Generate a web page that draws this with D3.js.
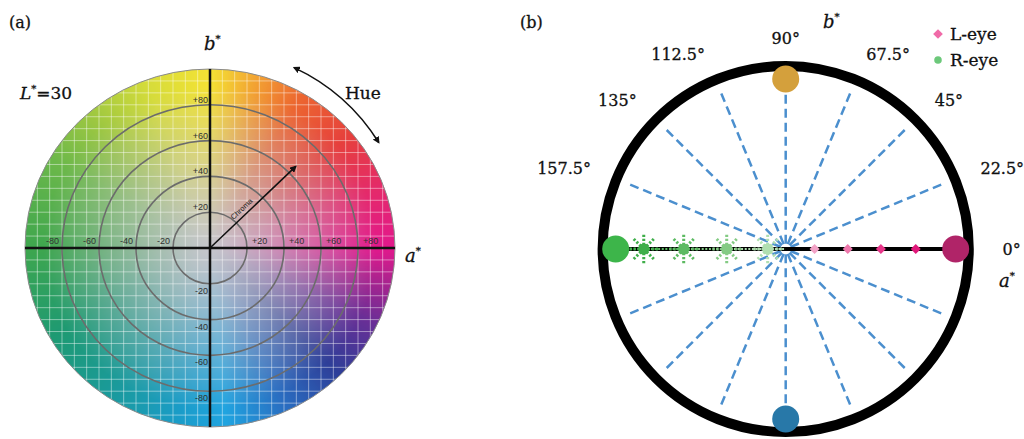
<!DOCTYPE html>
<html>
<head>
<meta charset="utf-8">
<script src="https://cdn.jsdelivr.net/npm/d3@7"></script>
<style>
  body { margin: 0; background: #fff; }
  svg { display: block; }
  .serif { font-family: "DejaVu Serif", serif; fill: #111; stroke: #111; stroke-width: 0.3; }
</style>
</head>
<body>
<svg id="chart" width="1024" height="439"></svg>
<script>
// ---- panel (a): CIELAB a*b* plane at L*=30 ----
const hueAngles = [0, 20, 40, 60, 75, 90, 110, 130, 150, 180, 210, 235, 260, 275, 295, 315, 335, 350, 360];
const hueColors = ['#e2188c', '#e42a6a', '#e6403c', '#ec6630', '#f2a232', '#f4e234', '#d6dc3a', '#a0c840',
  '#6cb84a', '#3ea64e', '#1e9a72', '#1a9a98', '#1a9cc8', '#20a4e0', '#2a6cc0', '#2e3e98', '#6a2e96', '#b0228e', '#e2188c'];
const abTicks = [-80, -60, -40, -20, 20, 40, 60, 80];
const chromaRings = [20, 40, 60, 80];
const chromaArrow = [{ hue: 44.5, chroma: 65 }];
const hueArrow = [{ from: 65, to: 32 }];

// ---- panel (b): hue angle diagram ----
const spokeAngles = [22.5, 45, 67.5, 90, 112.5, 135, 157.5, 202.5, 225, 247.5, 270, 292.5, 315, 337.5];
const angleLabels = [0, 22.5, 45, 67.5, 90, 112.5, 135, 157.5];
const anchorHues = [0, 90, 180, 270];
const anchorColors = ['#b02468', '#d4a03c', '#3db54a', '#2878a8'];
const rEyeA = [-0.835, -0.6, -0.347, -0.106];
const rEyeColors = ['#3fae4a', '#5cba62', '#84cb84', '#b0dfb0'];
const lEyeA = [0.17, 0.365, 0.56, 0.765];
const lEyeColors = ['#f2a2c6', '#ee78ac', '#e8368a', '#e0187a'];
const legendItems = ['L-eye', 'R-eye'];
const legendColors = ['#f06aa8', '#6cc87a'];

const svg = d3.select('#chart');
const rad = (d) => (d * Math.PI) / 180;

const defs = svg.append('defs');
defs.append('marker')
  .attr('id', 'arrowHead')
  .attr('viewBox', '0 0 10 10')
  .attr('refX', 8).attr('refY', 5)
  .attr('markerWidth', 7).attr('markerHeight', 7)
  .attr('markerUnits', 'userSpaceOnUse')
  .attr('orient', 'auto-start-reverse')
  .append('path')
  .attr('d', 'M0,0 L10,5 L0,10 Z')
  .attr('fill', '#111');

// ================= panel (a) =================
const ax = d3.scaleLinear().domain([-100, 100]).range([25, 395]);
const ay = d3.scaleLinear().domain([-100, 100]).range([427, 69]);
const hueScale = d3.scaleLinear().domain(hueAngles).range(hueColors).interpolate(d3.interpolateRgb);
const chromaScale = d3.scalePow().exponent(1.2).domain([0, 90]).range([0, 1]).clamp(true);
const gray = d3.rgb('#c6c6cc');

// hue lookup table, half-degree steps
const lut = d3.range(0, 720).map((i) => d3.rgb(hueScale(i / 2)));

const x0 = Math.floor(ax(-100)), y0 = Math.floor(ay(100));
const cw = Math.ceil(ax(100)) - x0 + 1, ch = Math.ceil(ay(-100)) - y0 + 1;
const canvas = document.createElement('canvas');
canvas.width = cw; canvas.height = ch;
const ctx = canvas.getContext('2d');
const img = ctx.createImageData(cw, ch);
for (let py = 0; py < ch; py++) {
  for (let px = 0; px < cw; px++) {
    const a = ax.invert(x0 + px + 0.5), b = ay.invert(y0 + py + 0.5);
    const r = Math.hypot(a, b);
    const th = ((Math.atan2(b, a) * 180) / Math.PI + 360) % 360;
    const c = lut[Math.round(th * 2) % 720];
    const t = chromaScale(r);
    const k = (py * cw + px) * 4;
    img.data[k] = gray.r + (c.r - gray.r) * t;
    img.data[k + 1] = gray.g + (c.g - gray.g) * t;
    img.data[k + 2] = gray.b + (c.b - gray.b) * t;
    img.data[k + 3] = 255;
  }
}
ctx.putImageData(img, 0, 0);

defs.append('clipPath').attr('id', 'diskClip')
  .append('ellipse')
  .attr('cx', ax(0)).attr('cy', ay(0))
  .attr('rx', ax(100) - ax(0)).attr('ry', ay(0) - ay(100));

const gA = svg.append('g').attr('id', 'panelA');
const disk = gA.append('g').attr('clip-path', 'url(#diskClip)');
disk.append('image')
  .attr('x', x0).attr('y', y0)
  .attr('width', cw).attr('height', ch)
  .attr('href', canvas.toDataURL());

// fine white grid
const gridStep = 20 / 3;
const gridVals = d3.range(-15, 16).map((i) => i * gridStep);
disk.append('g')
  .selectAll('line')
  .data(gridVals)
  .join('line')
  .attr('x1', (d) => ax(d)).attr('x2', (d) => ax(d))
  .attr('y1', ay(100)).attr('y2', ay(-100))
  .attr('stroke', '#fff').attr('stroke-opacity', 0.45).attr('stroke-width', 1);
disk.append('g')
  .selectAll('line')
  .data(gridVals)
  .join('line')
  .attr('y1', (d) => ay(d)).attr('y2', (d) => ay(d))
  .attr('x1', ax(-100)).attr('x2', ax(100))
  .attr('stroke', '#fff').attr('stroke-opacity', 0.45).attr('stroke-width', 1);

gA.append('ellipse')
  .attr('cx', ax(0)).attr('cy', ay(0))
  .attr('rx', ax(100) - ax(0)).attr('ry', ay(0) - ay(100))
  .attr('fill', 'none').attr('stroke', '#8a8a8a').attr('stroke-width', 1);

gA.append('g')
  .selectAll('ellipse')
  .data(chromaRings)
  .join('ellipse')
  .attr('cx', ax(0)).attr('cy', ay(0))
  .attr('rx', (d) => ax(d) - ax(0)).attr('ry', (d) => ay(0) - ay(d))
  .attr('fill', 'none').attr('stroke', '#6c6c6c').attr('stroke-width', 1.6);

// axes
gA.append('line')
  .attr('x1', ax(-100)).attr('x2', ax(100)).attr('y1', ay(0)).attr('y2', ay(0))
  .attr('stroke', '#111').attr('stroke-width', 2.5);
gA.append('line')
  .attr('x1', ax(0)).attr('x2', ax(0)).attr('y1', ay(100)).attr('y2', ay(-100))
  .attr('stroke', '#111').attr('stroke-width', 2.5);

// tick labels
const tickFont = '"Liberation Sans", Arial, sans-serif';
const fmt = (d) => (d > 0 ? '+' + d : '-' + Math.abs(d));
gA.append('g')
  .selectAll('text')
  .data(abTicks)
  .join('text')
  .attr('x', (d) => (d < 0 ? ax(d) - 3 : ax(d) + 5))
  .attr('y', ay(0) - 4)
  .attr('text-anchor', (d) => (d < 0 ? 'end' : 'start'))
  .attr('font-family', tickFont).attr('font-size', 9).attr('fill', '#333')
  .text(fmt);
gA.append('g')
  .selectAll('text')
  .data(abTicks)
  .join('text')
  .attr('x', ax(0) - 2)
  .attr('y', (d) => (d > 0 ? ay(d) - 2 : ay(d) + 10))
  .attr('text-anchor', 'end')
  .attr('font-family', tickFont).attr('font-size', 9).attr('fill', '#333')
  .text(fmt);

// chroma arrow
gA.selectAll('g.chroma')
  .data(chromaArrow)
  .join('g')
  .attr('class', 'chroma')
  .each(function (d) {
    const g = d3.select(this);
    const ex = ax(d.chroma * Math.cos(rad(d.hue))), ey = ay(d.chroma * Math.sin(rad(d.hue)));
    g.append('line')
      .attr('x1', ax(0)).attr('y1', ay(0)).attr('x2', ex).attr('y2', ey)
      .attr('stroke', '#111').attr('stroke-width', 1.6)
      .attr('marker-end', 'url(#arrowHead)');
    const mx = ax(0) + (ex - ax(0)) * 0.42, my = ay(0) + (ey - ay(0)) * 0.42;
    const ang = (Math.atan2(ey - ay(0), ex - ax(0)) * 180) / Math.PI;
    g.append('text')
      .attr('transform', `translate(${mx},${my}) rotate(${ang}) translate(0,-4)`)
      .attr('text-anchor', 'middle')
      .attr('font-family', tickFont).attr('font-size', 7.5).attr('fill', '#222')
      .text('Chroma');
  });

// hue arrow
const hueR = 199;
gA.selectAll('path.hue')
  .data(hueArrow)
  .join('path')
  .attr('class', 'hue')
  .attr('d', (d) => {
    const p = d3.path();
    p.arc(ax(0), ay(0), hueR, -rad(d.from), -rad(d.to), false);
    return p.toString();
  })
  .attr('fill', 'none').attr('stroke', '#111').attr('stroke-width', 1.6)
  .attr('marker-start', 'url(#arrowHead)').attr('marker-end', 'url(#arrowHead)');

gA.append('text').attr('class', 'serif').attr('x', 345).attr('y', 99)
  .attr('font-size', 17).text('Hue');
gA.append('text').attr('class', 'serif').attr('x', 9).attr('y', 28)
  .attr('font-size', 16).text('(a)');

const lab = gA.append('text').attr('class', 'serif').attr('x', 20).attr('y', 99)
  .attr('font-size', 17);
lab.append('tspan').attr('font-style', 'italic').text('L');
lab.append('tspan').attr('font-size', 10).attr('dy', -7).text('*');
lab.append('tspan').attr('dy', 7).text('=30');

function axisName(g, x, y, letter) {
  const t = g.append('text').attr('class', 'serif').attr('x', x).attr('y', y)
    .attr('font-size', 18);
  t.append('tspan').attr('font-style', 'italic').text(letter);
  t.append('tspan').attr('font-size', 10).attr('dy', -8).text('*');
}
axisName(gA, 204, 50, 'b');
axisName(gA, 405, 262, 'a');

// ================= panel (b) =================
const bx = d3.scaleLinear().domain([-1, 1]).range([615.7, 955.7]);
const by = d3.scaleLinear().domain([-1, 1]).range([419, 79]);
const gB = svg.append('g').attr('id', 'panelB');
const ringR = 1.077;

gB.append('ellipse')
  .attr('cx', bx(0)).attr('cy', by(0))
  .attr('rx', bx(ringR) - bx(0)).attr('ry', by(0) - by(ringR))
  .attr('fill', 'none').attr('stroke', '#000').attr('stroke-width', 10);

// dashed spokes
gB.append('g')
  .selectAll('line')
  .data(spokeAngles)
  .join('line')
  .attr('x1', (d) => bx(0.99 * Math.cos(rad(d))))
  .attr('y1', (d) => by(0.99 * Math.sin(rad(d))))
  .attr('x2', (d) => bx(0.03 * Math.cos(rad(d))))
  .attr('y2', (d) => by(0.03 * Math.sin(rad(d))))
  .attr('stroke', '#4b8fce').attr('stroke-width', 2.5)
  .attr('stroke-dasharray', '9,5');

// a* axis line
gB.append('line')
  .attr('x1', bx(-1)).attr('x2', bx(1)).attr('y1', by(0)).attr('y2', by(0))
  .attr('stroke', '#000').attr('stroke-width', 4);

// dotted connections between R-eye points
const rPath = [-1].concat(rEyeA, [0]);
gB.append('g')
  .selectAll('line')
  .data(d3.pairs(rPath))
  .join('line')
  .attr('x1', (d) => bx(d[0])).attr('x2', (d) => bx(d[1]))
  .attr('y1', by(0)).attr('y2', by(0))
  .attr('stroke', (d, i) => rEyeColors[Math.min(i, rEyeColors.length - 1)])
  .attr('stroke-width', 2.2).attr('stroke-dasharray', '2,1.6');

// R-eye stars
const rayAngles = d3.range(0, 360, 45);
const stars = gB.append('g')
  .selectAll('g')
  .data(rEyeA)
  .join('g')
  .attr('transform', (d) => `translate(${bx(d)},${by(0)})`);
stars.each(function (d, i) {
  d3.select(this).selectAll('line')
    .data(rayAngles)
    .join('line')
    .attr('x1', 0).attr('y1', 0)
    .attr('x2', (a) => 15 * Math.cos(rad(a)))
    .attr('y2', (a) => -15 * Math.sin(rad(a)))
    .attr('stroke', rEyeColors[i]).attr('stroke-width', 3)
    .attr('stroke-dasharray', '2.2,1.8');
});
stars.append('circle').attr('r', 5.5).attr('fill', (d, i) => rEyeColors[i]);

// L-eye diamonds
gB.append('g')
  .selectAll('path')
  .data(lEyeA)
  .join('path')
  .attr('d', d3.symbol(d3.symbolDiamond2, 64))
  .attr('transform', (d) => `translate(${bx(d)},${by(0)})`)
  .attr('fill', (d, i) => lEyeColors[i]);

// anchor dots
gB.append('g')
  .selectAll('circle')
  .data(anchorHues)
  .join('circle')
  .attr('cx', (d) => bx(Math.cos(rad(d))))
  .attr('cy', (d) => by(Math.sin(rad(d))))
  .attr('r', 13.5)
  .attr('fill', (d, i) => anchorColors[i]);

// angle labels
const labelR = 1.24;
gB.append('g')
  .selectAll('text')
  .data(angleLabels)
  .join('text')
  .attr('class', 'serif')
  .attr('x', (d) => bx(labelR * Math.cos(rad(d))) + (d === 0 ? 6 : 0))
  .attr('y', (d) => by(labelR * Math.sin(rad(d))))
  .attr('dy', '0.35em')
  .attr('text-anchor', (d) => (d < 90 ? 'start' : d > 90 ? 'end' : 'middle'))
  .attr('font-size', 16)
  .text((d) => d + '°');

axisName(gB, 823, 28, 'b');
axisName(gB, 999, 287, 'a');
gB.append('text').attr('class', 'serif').attr('x', 520).attr('y', 28)
  .attr('font-size', 16).text('(b)');

// legend
const legend = gB.append('g')
  .selectAll('g')
  .data(legendItems)
  .join('g')
  .attr('transform', (d, i) => `translate(938,${34 + i * 26})`);
legend.append('path')
  .attr('d', (d, i) => d3.symbol(i === 0 ? d3.symbolDiamond2 : d3.symbolCircle, i === 0 ? 60 : 45)())
  .attr('fill', (d, i) => legendColors[i]);
legend.append('text')
  .attr('class', 'serif')
  .attr('x', 12).attr('dy', '0.35em')
  .attr('font-size', 17)
  .text((d) => d);
</script>
</body>
</html>
